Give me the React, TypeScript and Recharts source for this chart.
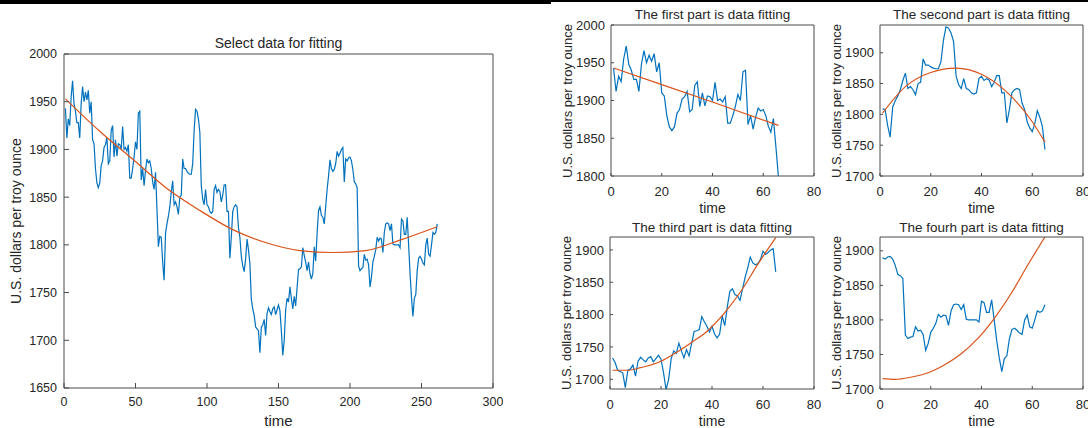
import { Line, LineChart, XAxis, YAxis } from "recharts";

// gold price, split into the four segments shown on the right
const part1 = [
  1943, 1912, 1932, 1925, 1955, 1972, 1948, 1940, 1928, 1928,
  1912, 1948, 1966, 1950, 1960, 1952, 1962, 1938, 1950, 1910,
  1906, 1880, 1865, 1860, 1865, 1883, 1888, 1902, 1905, 1912,
  1885, 1888, 1920, 1925, 1892, 1910, 1893, 1906, 1905, 1900,
  1924, 1900, 1902, 1898, 1905, 1870, 1870, 1880, 1892, 1908,
  1900, 1938, 1940, 1868, 1880, 1862, 1878, 1890, 1886, 1888,
  1880, 1866, 1858, 1876, 1838, 1798,
];
const part2 = [
  1809, 1808, 1782, 1763, 1812, 1822, 1830, 1840, 1855, 1867,
  1842, 1845, 1840, 1832, 1850, 1852, 1890, 1880, 1880, 1877,
  1875, 1874, 1874, 1885, 1920, 1942, 1940, 1932, 1918, 1862,
  1848, 1842, 1858, 1842, 1840, 1835, 1833, 1835, 1858, 1862,
  1855, 1858, 1856, 1845, 1852, 1863, 1863, 1835, 1835, 1786,
  1808, 1835, 1840, 1842, 1840, 1818, 1808, 1788, 1778, 1772,
  1785, 1806, 1795, 1780, 1743,
];
const part3 = [
  1733, 1726, 1714, 1712, 1710, 1687, 1714, 1716, 1722, 1705,
  1728, 1734, 1730, 1727, 1733, 1735, 1727, 1732, 1737, 1731,
  1710, 1684, 1700, 1732, 1744, 1740, 1756, 1744, 1733, 1746,
  1736, 1755, 1774, 1775, 1777, 1797, 1789, 1782, 1773, 1782,
  1770, 1764, 1770, 1798, 1783, 1812, 1836, 1840, 1831, 1829,
  1822, 1840, 1858, 1872, 1889, 1880, 1877, 1879, 1885, 1898,
  1893, 1896, 1900, 1902, 1866,
];
const part4 = [
  1890, 1888, 1891, 1892, 1888, 1879, 1866, 1864, 1860, 1778,
  1773, 1775, 1776, 1790, 1784, 1785, 1779, 1756, 1766, 1782,
  1788, 1795, 1808, 1804, 1807, 1806, 1792, 1813, 1822, 1823,
  1822, 1815, 1822, 1801, 1800, 1800, 1800, 1800, 1797, 1827,
  1825, 1811, 1811, 1829, 1800, 1770, 1745, 1725, 1744, 1748,
  1773, 1786, 1788, 1785, 1781, 1779, 1800, 1807, 1790, 1788,
  1800, 1813, 1811, 1813, 1822,
];

// fitted curves at a few times
const fitMain = [
  { t: 1, v: 1953 }, { t: 25, v: 1919 }, { t: 51, v: 1886 },
  { t: 72, v: 1859 }, { t: 95, v: 1836 }, { t: 118, v: 1816 },
  { t: 142, v: 1802 }, { t: 165, v: 1794 }, { t: 188, v: 1792 },
  { t: 211, v: 1794 }, { t: 235, v: 1805 }, { t: 261, v: 1819 },
];
const fit1 = [
  { t: 1, v: 1943 }, { t: 20, v: 1921 }, { t: 40, v: 1898 }, { t: 66, v: 1867 },
];
const fit2 = [
  { t: 1, v: 1802 }, { t: 10, v: 1845 }, { t: 20, v: 1868 }, { t: 30, v: 1875 },
  { t: 40, v: 1865 }, { t: 50, v: 1836 }, { t: 60, v: 1788 }, { t: 65, v: 1755 },
];
const fit3 = [
  { t: 1, v: 1714 }, { t: 7, v: 1714 }, { t: 12, v: 1718 }, { t: 20, v: 1728 },
  { t: 25, v: 1739 }, { t: 32, v: 1757 }, { t: 38, v: 1774 }, { t: 45, v: 1803 },
  { t: 52, v: 1840 }, { t: 58, v: 1878 }, { t: 65, v: 1919 },
];
const fit4 = [
  { t: 1, v: 1715 }, { t: 6, v: 1714 }, { t: 12, v: 1717 }, { t: 20, v: 1725 },
  { t: 25, v: 1734 }, { t: 32, v: 1751 }, { t: 38, v: 1771 }, { t: 45, v: 1802 },
  { t: 52, v: 1840 }, { t: 58, v: 1878 }, { t: 65, v: 1920 },
];

const mainTicksX = [0, 50, 100, 150, 200, 250, 300];
const mainTicksY = [1650, 1700, 1750, 1800, 1850, 1900, 1950, 2000];
const subTicksX = [0, 20, 40, 60, 80];
const ticks1Y = [1800, 1850, 1900, 1950, 2000];
const ticksY = [1700, 1750, 1800, 1850, 1900];

const FONT = '"Liberation Sans", Arial, Helvetica, sans-serif';
const INK = "#262626";
const AXIS = "#4a4a4a";
const BLUE = "#0072BD";
const ORANGE = "#D95319";
const YLABEL = "U.S. dollars per troy ounce";

const toPts = (vals: number[]) => vals.map((v, i) => ({ t: i + 1, v }));

type Box = { left: number; top: number; right: number; bottom: number };

function Panel({
  box,
  data,
  fit,
  fitType,
  xDomain,
  xTicks,
  yDomain,
  yTicks,
  tickLen,
  fontSize,
  marginX,
  marginY,
}: {
  box: Box;
  data: { t: number; v: number }[];
  fit: { t: number; v: number }[];
  fitType: "linear" | "monotone";
  xDomain: [number, number];
  xTicks: number[];
  yDomain: [number, number];
  yTicks: number[];
  tickLen: number;
  fontSize: number;
  marginX: number;
  marginY: number;
}) {
  const padL = 60;
  const padT = 10;
  const padR = 10;
  const padB = 40;
  const tick = { fill: INK, fontSize, fontFamily: FONT };
  return (
    <div style={{ position: "absolute", left: box.left - padL, top: box.top - padT }}>
      <LineChart
        width={box.right - box.left + padL + padR}
        height={box.bottom - box.top + padT + padB}
        margin={{ top: padT - 1, right: padR - 1, bottom: 0, left: 0 }}
      >
        <XAxis
          xAxisId="b"
          type="number"
          dataKey="t"
          domain={xDomain}
          ticks={xTicks}
          interval={0}
          height={padB}
          tickSize={-tickLen}
          tickMargin={marginX}
          stroke={AXIS}
          tick={tick}
          allowDataOverflow
        />
        {/* top and right axes close the box, ticks only */}
        <XAxis
          xAxisId="t"
          orientation="top"
          type="number"
          dataKey="t"
          domain={xDomain}
          ticks={xTicks}
          interval={0}
          height={1}
          tickSize={-tickLen}
          stroke={AXIS}
          tick={false}
          allowDataOverflow
        />
        <YAxis
          yAxisId="l"
          type="number"
          domain={yDomain}
          ticks={yTicks}
          interval={0}
          width={padL}
          tickSize={-tickLen}
          tickMargin={marginY}
          stroke={AXIS}
          tick={tick}
          allowDataOverflow
        />
        <YAxis
          yAxisId="r"
          orientation="right"
          type="number"
          domain={yDomain}
          ticks={yTicks}
          interval={0}
          width={1}
          tickSize={-tickLen}
          stroke={AXIS}
          tick={false}
          allowDataOverflow
        />
        <Line
          xAxisId="b"
          yAxisId="l"
          data={data}
          dataKey="v"
          type="linear"
          stroke={BLUE}
          strokeWidth={1.2}
          dot={false}
          activeDot={false}
          isAnimationActive={false}
        />
        <Line
          xAxisId="t"
          yAxisId="r"
          data={fit}
          dataKey="v"
          type={fitType}
          stroke={ORANGE}
          strokeWidth={1.2}
          dot={false}
          activeDot={false}
          isAnimationActive={false}
        />
      </LineChart>
    </div>
  );
}

function Txt({
  x,
  y,
  size,
  rotate,
  children,
}: {
  x: number;
  y: number;
  size: number;
  rotate?: boolean;
  children: string;
}) {
  return (
    <div
      style={{
        position: "absolute",
        left: x,
        top: y,
        transform: `translate(-50%, -50%)${rotate ? " rotate(-90deg)" : ""}`,
        whiteSpace: "nowrap",
        fontFamily: FONT,
        fontSize: size,
        lineHeight: 1,
        color: INK,
      }}
    >
      {children}
    </div>
  );
}

const mainBox: Box = { left: 64, top: 54, right: 493, bottom: 388 };
const box1: Box = { left: 611, top: 25, right: 814, bottom: 176 };
const box2: Box = { left: 880, top: 25, right: 1083, bottom: 176 };
const box3: Box = { left: 610, top: 237, right: 814, bottom: 389 };
const box4: Box = { left: 880, top: 237, right: 1083, bottom: 389 };

export default function App() {
  const all = toPts([...part1, ...part2, ...part3, ...part4]);
  const sub = { xDomain: [0, 80] as [number, number], xTicks: subTicksX, tickLen: 3, fontSize: 13, marginX: 14, marginY: 9 };
  const mid = (b: Box) => (b.left + b.right) / 2;
  const vmid = (b: Box) => (b.top + b.bottom) / 2;
  return (
    <div
      style={{
        position: "absolute",
        left: 0,
        top: 0,
        width: 1088,
        height: 428,
        overflow: "hidden",
        background: "#fff",
      }}
    >
      <div style={{ position: "absolute", left: 0, top: 0, width: 551, height: 4, background: "#000" }} />
      <div style={{ position: "absolute", left: 551, top: 0, width: 537, height: 2, background: "#000" }} />

      <Panel
        box={mainBox}
        data={all}
        fit={fitMain}
        fitType="monotone"
        xDomain={[0, 300]}
        xTicks={mainTicksX}
        yDomain={[1650, 2000]}
        yTicks={mainTicksY}
        tickLen={5}
        fontSize={12.5}
        marginX={14}
        marginY={12}
      />
      <Txt x={mid(mainBox)} y={43} size={14}>Select data for fitting</Txt>
      <Txt x={mid(mainBox)} y={420} size={15}>time</Txt>
      <Txt x={16} y={vmid(mainBox)} size={14} rotate>{YLABEL}</Txt>

      <Panel box={box1} data={toPts(part1)} fit={fit1} fitType="linear" yDomain={[1800, 2000]} yTicks={ticks1Y} {...sub} />
      <Txt x={mid(box1)} y={15} size={13.5}>The first part is data fitting</Txt>
      <Txt x={mid(box1)} y={208} size={14}>time</Txt>
      <Txt x={567} y={vmid(box1)} size={13} rotate>{YLABEL}</Txt>

      <Panel box={box2} data={toPts(part2)} fit={fit2} fitType="monotone" yDomain={[1700, 1945]} yTicks={ticksY} {...sub} />
      <Txt x={mid(box2)} y={15} size={13.5}>The second part is data fitting</Txt>
      <Txt x={mid(box2)} y={208} size={14}>time</Txt>
      <Txt x={836} y={vmid(box2)} size={13} rotate>{YLABEL}</Txt>

      <Panel box={box3} data={toPts(part3)} fit={fit3} fitType="monotone" yDomain={[1685, 1920]} yTicks={ticksY} {...sub} />
      <Txt x={mid(box3)} y={228} size={13.5}>The third part is data fitting</Txt>
      <Txt x={mid(box3)} y={421} size={14}>time</Txt>
      <Txt x={566} y={vmid(box3)} size={13} rotate>{YLABEL}</Txt>

      <Panel box={box4} data={toPts(part4)} fit={fit4} fitType="monotone" yDomain={[1700, 1920]} yTicks={ticksY} {...sub} />
      <Txt x={mid(box4)} y={228} size={13.5}>The fourh part is data fitting</Txt>
      <Txt x={mid(box4)} y={421} size={14}>time</Txt>
      <Txt x={836} y={vmid(box4)} size={13} rotate>{YLABEL}</Txt>
    </div>
  );
}
